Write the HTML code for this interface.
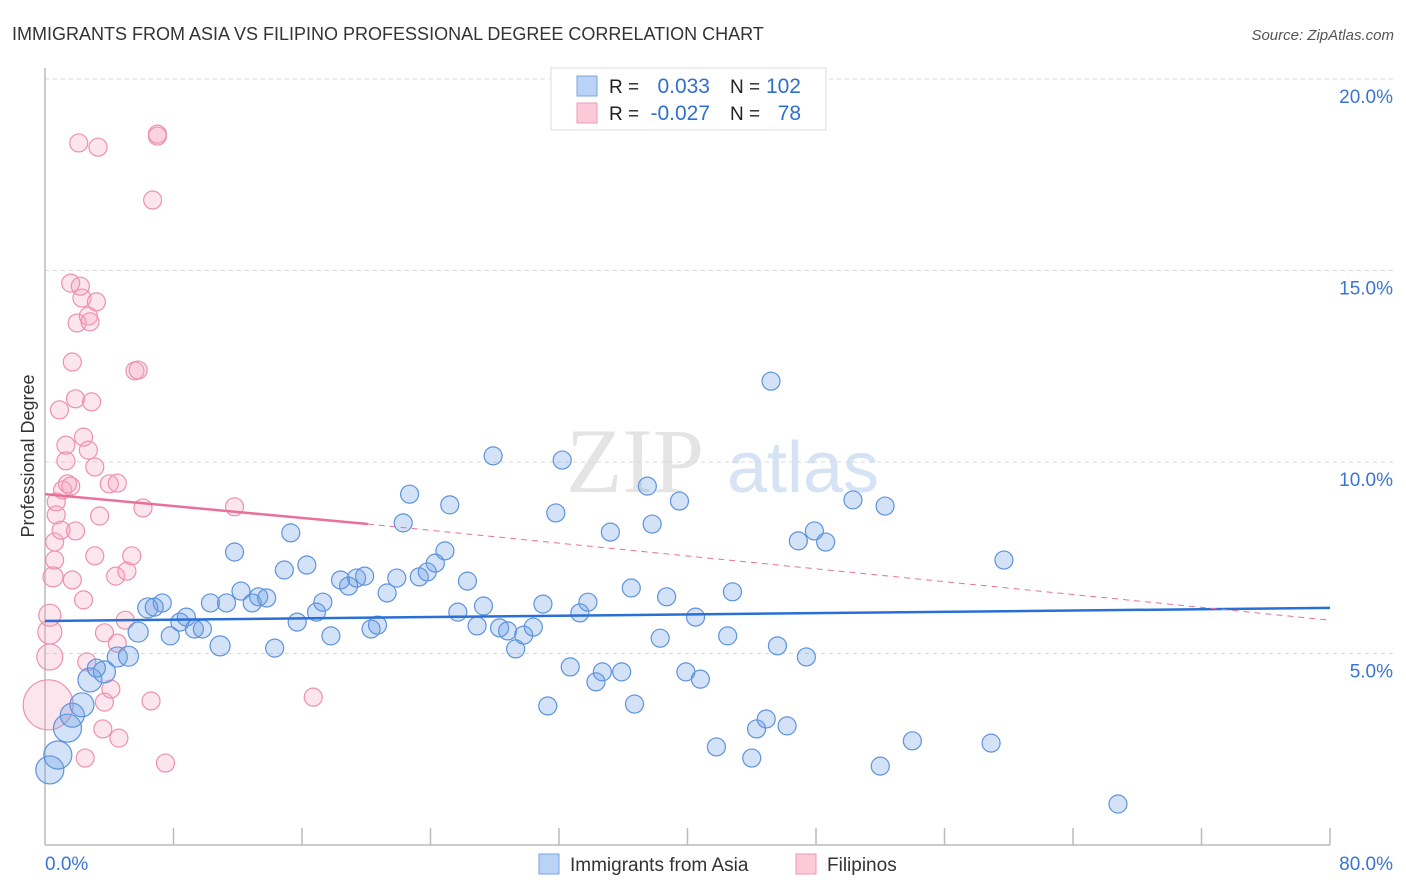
<!DOCTYPE html>
<html><head><meta charset="utf-8"><style>
body{margin:0;background:#fff;font-family:"Liberation Sans",sans-serif}
#wrap{position:relative;width:1406px;height:892px;overflow:hidden}
</style></head><body>
<div id="wrap">
<svg id="svg" width="1406" height="892" xmlns="http://www.w3.org/2000/svg">
<text x="12" y="40" font-size="18" fill="#333">IMMIGRANTS FROM ASIA VS FILIPINO PROFESSIONAL DEGREE CORRELATION CHART</text>
<text x="1394" y="40" font-size="15" fill="#555" font-style="italic" text-anchor="end">Source: ZipAtlas.com</text>
<text x="34" y="456" font-size="18" fill="#333" text-anchor="middle" transform="rotate(-90 34 456)">Professional Degree</text>
<g><text x="635" y="492" font-size="92" fill="#e4e4e4" font-family="Liberation Serif,serif" text-anchor="middle">ZIP</text><text x="803" y="492" font-size="72" fill="#d6e3f5" text-anchor="middle">atlas</text></g>
<g id="grid"></g><g id="pts"></g><g id="lines"></g>
<g>
<rect x="551" y="68" width="275" height="62" fill="#fff" stroke="#ddd"/>
<rect x="577" y="76" width="20" height="20" fill="#b9d2f5" stroke="#7aa5e0"/>
<rect x="577" y="103" width="20" height="20" fill="#fbc9d8" stroke="#ee9ab4"/>
<text x="609" y="93" font-size="19" fill="#222">R =</text><text x="710" y="93" font-size="21" fill="#2f6fd0" text-anchor="end">0.033</text>
<text x="730" y="93" font-size="19" fill="#222">N =</text><text x="801" y="93" font-size="21" fill="#2f6fd0" text-anchor="end">102</text>
<text x="609" y="120" font-size="19" fill="#222">R =</text><text x="710" y="120" font-size="21" fill="#2f6fd0" text-anchor="end">-0.027</text>
<text x="730" y="120" font-size="19" fill="#222">N =</text><text x="801" y="120" font-size="21" fill="#2f6fd0" text-anchor="end">78</text>
</g>
<g>
<rect x="539" y="854" width="20" height="20" fill="#b9d2f5" stroke="#7aa5e0"/>
<text x="570" y="871" font-size="19" fill="#333">Immigrants from Asia</text>
<rect x="796" y="854" width="20" height="20" fill="#fbc9d8" stroke="#ee9ab4"/>
<text x="827" y="871" font-size="19" fill="#333">Filipinos</text>
</g>
</svg></div>
<script>
const xTicks=[0,10,20,30,40,50,60,70,80];
const yTicks=[5,10,15,20];
const asiaX=[0.3,0.8,1.4,1.7,2.3,2.8,3.7,3.2,4.5,5.2,5.8,6.4,7.3,6.8,7.8,8.4,8.8,9.3,9.8,10.9,10.3,11.3,11.8,12.2,12.9,13.3,13.8,14.3,14.9,15.3,15.7,16.3,16.9,17.3,17.8,18.4,18.9,19.4,19.9,20.3,20.7,21.3,21.9,22.3,22.7,23.3,23.8,24.3,24.9,25.2,25.7,26.3,26.9,27.3,27.9,28.3,28.8,29.3,29.8,30.4,31.0,31.3,31.8,32.2,32.7,33.3,33.8,34.3,34.7,35.2,35.9,36.5,36.7,37.5,37.8,38.3,38.7,39.5,39.9,40.5,40.8,41.8,42.5,42.8,44.0,44.3,44.9,45.2,45.6,46.2,46.9,47.4,47.9,48.6,50.3,52.0,52.3,54.0,58.9,59.7,66.8];
const asiaY=[1.96,2.35,3.05,3.39,3.66,4.31,4.52,4.62,4.91,4.93,5.56,6.19,6.32,6.21,5.46,5.82,5.95,5.64,5.64,5.2,6.32,6.32,7.65,6.63,6.32,6.48,6.45,5.14,7.18,8.15,5.82,7.31,6.08,6.34,5.46,6.92,6.76,6.97,7.02,5.64,5.74,6.58,6.97,8.41,9.16,7.0,7.13,7.36,7.68,8.88,6.08,6.89,5.72,6.24,10.16,5.67,5.59,5.12,5.48,5.69,6.29,3.63,8.67,10.05,4.65,6.06,6.34,4.26,4.52,8.17,4.52,6.71,3.68,9.37,8.38,5.4,6.48,8.98,4.52,5.95,4.33,2.56,5.46,6.61,2.27,3.03,3.29,12.11,5.2,3.11,7.94,4.91,8.2,7.91,9.01,2.06,8.85,2.72,2.66,7.44,1.07];
const asiaR=[14,14,14,12,12,12,11,9,10,10,10,10,9,9,9,9,9,9,9,10];
const filX=[0.2,0.3,0.3,0.3,0.5,0.6,0.6,0.7,0.7,1.0,0.9,1.1,1.3,1.3,1.4,1.6,1.6,1.7,1.7,1.9,1.9,2.0,2.1,2.3,2.2,2.4,2.4,2.5,2.7,2.6,2.7,2.8,2.9,3.1,3.1,3.2,3.3,3.4,3.6,3.7,3.7,4.1,4.0,4.4,4.5,4.5,4.6,5.0,5.1,5.4,5.6,5.8,6.1,6.6,6.7,7.0,7.0,7.5,11.8,16.7];
const filY=[3.66,4.91,5.56,6.0,7.0,7.44,7.91,8.62,8.96,8.22,11.36,9.27,10.03,10.44,9.43,9.37,14.67,12.61,6.92,8.2,11.65,13.63,18.33,14.28,14.59,10.65,6.4,2.27,10.31,4.78,13.81,13.66,11.57,9.87,7.55,14.18,18.22,8.59,3.03,3.73,5.54,4.07,9.43,7.02,9.45,5.27,2.79,5.87,7.15,7.55,12.38,12.4,8.8,3.76,16.84,18.56,18.51,2.14,8.83,3.86];
const filR=[25,13,12,11,10];
const asiaTrend=[5.85,6.19];
const filTrend=[9.16,8.38,5.87];
const filSolidEnd=20.1;
const X=v=>45+v/80*1285, Y=v=>845-v*38.3;
const NS='http://www.w3.org/2000/svg';
function mk(p,t,a){const e=document.createElementNS(NS,t);for(const k in a)e.setAttribute(k,a[k]);p.appendChild(e);return e;}
const g=document.getElementById('grid');
yTicks.forEach(v=>{
 const l=mk(g,'line',{x1:45,x2:1393,y1:Y(v),y2:Y(v),stroke:'#d8d8d8','stroke-dasharray':'4 4'});
 
 
 const t=mk(g,'text',{x:1393,y:Y(v)+24,'font-size':19,fill:'#3a75d4','text-anchor':'end'});t.textContent=v.toFixed(1)+'%';
 
 
});
mk(g,'line',{x1:45,x2:45,y1:68,y2:845,stroke:'#bbb','stroke-width':1.5});
mk(g,'line',{x1:45,x2:1330,y1:845,y2:845,stroke:'#bbb','stroke-width':1.5});
for(let i=1;i<=10;i++){const x=X(i*8);mk(g,'line',{x1:x,x2:x,y1:828,y2:845,stroke:'#bbb','stroke-width':1.5});}
[[0,'start'],[80,'end']].forEach(([v,a])=>{const t=mk(g,'text',{x:v?1393:45,y:870,'font-size':19,fill:'#3a75d4','text-anchor':a});t.textContent=v.toFixed(1)+'%';
 
 });
const p=document.getElementById('pts');
filX.forEach((x,i)=>{const c=mk(p,'circle',{cx:X(x),cy:Y(filY[i]),r:filR[i]||9,fill:'rgba(245,160,190,0.28)',stroke:'#ec92ae','stroke-width':1.2});
 
 });
asiaX.forEach((x,i)=>{const c=mk(p,'circle',{cx:X(x),cy:Y(asiaY[i]),r:asiaR[i]||9,fill:'rgba(110,160,230,0.3)',stroke:'#5d93dc','stroke-width':1.2});
 
 });
const L=document.getElementById('lines');
let a=mk(L,'line',{x1:X(0),y1:Y(asiaTrend[0]),x2:X(80),y2:Y(asiaTrend[1]),stroke:'#2a6fd6','stroke-width':2.5});


let b=mk(L,'line',{x1:X(0),y1:Y(filTrend[0]),x2:X(filSolidEnd),y2:Y(filTrend[1]),stroke:'#e8709a','stroke-width':2.5});


let c=mk(L,'line',{x1:X(filSolidEnd),y1:Y(filTrend[1]),x2:X(80),y2:Y(filTrend[2]),stroke:'#e8709a','stroke-width':1,'stroke-dasharray':'6 5'});


</script>
</body></html>
